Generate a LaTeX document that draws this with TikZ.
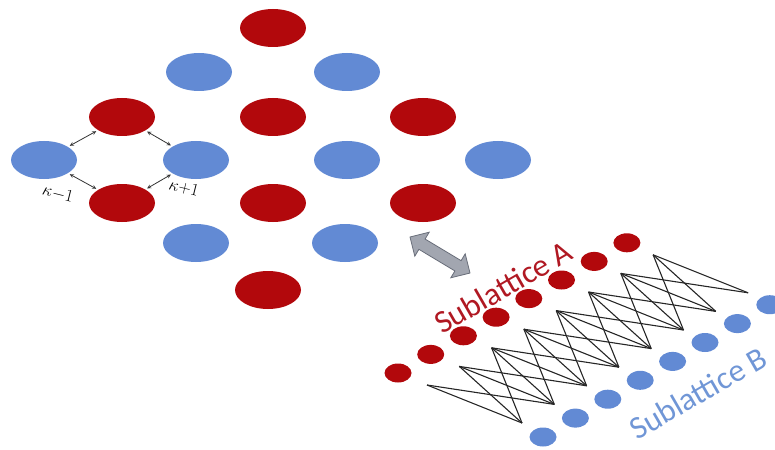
\documentclass[tikz,border=0pt]{standalone}
\usepackage{fontspec}
\newfontfamily\labelfont{Carlito}
\usetikzlibrary{shapes.geometric}

\begin{document}
\begin{tikzpicture}[x=1pt,y=-1pt,>=latex,
  site/.style={ellipse,inner sep=0pt,minimum width=66pt,minimum height=38pt},
  dot/.style={ellipse,inner sep=0pt,minimum width=27pt,minimum height=19pt},
  hop/.style={<->,>=stealth,line width=0.8pt,black!80,shorten <=2pt,shorten >=2pt},
  bond/.style={line width=1.1pt,black!85}]

\definecolor{sitered}{RGB}{178,8,12}
\definecolor{siteblue}{RGB}{98,138,212}
\definecolor{txtred}{RGB}{176,24,34}
\definecolor{txtblue}{RGB}{112,150,214}
\definecolor{arrgray}{RGB}{162,166,176}
\definecolor{arredge}{RGB}{105,110,122}

\useasboundingbox (0,0) rectangle (775,449);

% square lattice
\foreach \n/\x/\y in {1/273/28,2/122/117,3/273/117,4/423/117,5/122/203,6/273/203,7/423/203,8/268/290}
  \node[site,fill=sitered] (a\n) at (\x,\y) {};
\foreach \n/\x/\y in {1/199/72,2/347/72,3/44/160,4/196/160,5/347/160,6/498/160,7/196/243,8/345/243}
  \node[site,fill=siteblue] (b\n) at (\x,\y) {};

\draw[hop] (b3) -- (a2);
\draw[hop] (a2) -- (b4);
\draw[hop] (b3) -- (a5);
\draw[hop] (a5) -- (b4);
\node[rotate=-14,font=\fontsize{17}{17}\selectfont] (km) at (58,194) {$\kappa{-}1$};
\node[rotate=-14,font=\fontsize{17}{17}\selectfont] (kp) at (184,188) {$\kappa{+}1$};

% mapping arrow
\begin{scope}[shift={(440,255)},rotate=-31]
\filldraw[fill=arrgray,draw=arredge,line width=0.8pt]
  (-35,0)--(-21,14)--(-21,6)--(21,6)--(21,14)--(35,0)--(21,-14)--(21,-6)--(-21,-6)--(-21,-14)--cycle;
\end{scope}

% chain
\foreach \k in {0,...,7}{
  \node[dot,fill=sitered] (p\k) at ({398+32.7*\k},{373-18.6*\k}) {};
  \node[dot,fill=siteblue] (q\k) at ({543+32.4*\k},{437-18.9*\k}) {};
  \coordinate (t\k) at ({427+32.3*\k},{385-18.6*\k});
  \coordinate (u\k) at ({522+32.3*\k},{423-18.6*\k});
}
\foreach \k in {0,...,7}
  \draw[bond] (t\k) -- (u\k);
\foreach \k [evaluate=\k as \j using int(\k+1)] in {0,...,6}
  \draw[bond] (t\k) -- (u\j);
\foreach \k [evaluate=\k as \j using int(\k-1)] in {1,...,7}
  \draw[bond] (t\k) -- (u\j);
\foreach \k [evaluate=\k as \j using int(\k-2)] in {2,...,7}
  \draw[bond] (t\k) -- (u\j);

\node[rotate=30,text=txtred,font=\labelfont\fontsize{32}{32}\selectfont] (la) at (503,287) {Sublattice A};
\node[rotate=30,text=txtblue,font=\labelfont\fontsize{32}{32}\selectfont] (lb) at (698,393) {Sublattice B};

\end{tikzpicture}
\end{document}
